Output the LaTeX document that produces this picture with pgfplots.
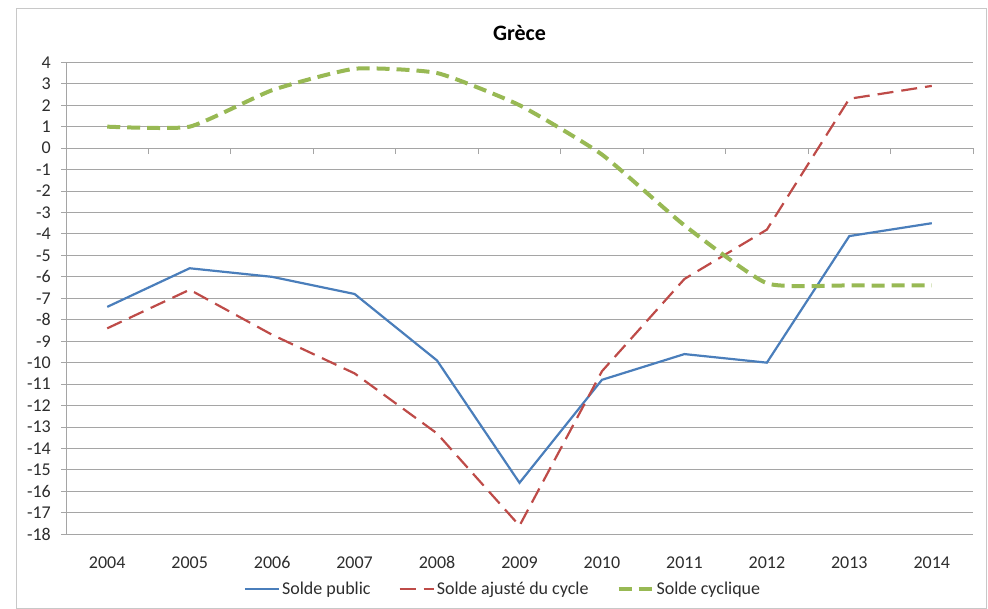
\documentclass[border=0pt]{standalone}
\usepackage{fontspec}
\setmainfont{Carlito}
\usepackage{pgfplots}
\pgfplotsset{compat=1.18}

\definecolor{gridcol}{RGB}{165,165,165}
\definecolor{framecol}{RGB}{200,200,200}
\definecolor{txtcol}{RGB}{45,45,45}
\definecolor{solpub}{RGB}{74,126,187}
\definecolor{solaju}{RGB}{190,75,72}
\definecolor{solcyc}{RGB}{152,185,84}

% Greece: budget balances, % of GDP (x = 0 ... 10 for 2004 ... 2014)
\pgfplotstableread{
x  public  ajuste  cyclique
0  -7.4    -8.4     1.0
1  -5.6    -6.6     1.0
2  -6.0    -8.7     2.7
3  -6.8   -10.5     3.7
4  -9.9   -13.3     3.5
5 -15.6   -17.6     2.0
6 -10.8   -10.4    -0.3
7  -9.6    -6.1    -3.6
8 -10.0    -3.8    -6.3
9  -4.1     2.3    -6.4
10 -3.5     2.9    -6.4
}\greecedata

\begin{document}
\begin{tikzpicture}
\path[use as bounding box] (0pt,0pt) rectangle (988pt,-609pt);
\draw[framecol, line width=1pt] (16pt,-9pt) rectangle (986pt,-608pt);

\pgfplotsset{
  greece base/.style={
    at={(66pt,-534.3pt)}, anchor=south west,
    scale only axis, width=907pt, height=472pt,
    xmin=-0.5, xmax=10.5, ymin=-18, ymax=4,
  }
}

% ticks on the category axis, which crosses at zero
\begin{axis}[
  greece base,
  axis x line*=middle, axis y line=none,
  x axis line style={draw=gridcol, line width=1pt},
  xtick={-0.5,0.5,...,10.5}, xticklabels={},
  ytick=\empty,
  tick align=outside, major tick length=6pt,
  xtick style={draw=gridcol, line width=1pt},
]
\end{axis}

\begin{axis}[
  greece base,
  axis lines*=left,
  axis line style={draw=gridcol, line width=1pt},
  ytick distance=1,
  ymajorgrids, grid style={draw=gridcol, line width=1pt},
  ytick style={draw=gridcol, line width=1pt},
  tick align=outside, major tick length=5pt,
  xtick=data,
  xticklabels={2004,2005,2006,2007,2008,2009,2010,2011,2012,2013,2014},
  xtick style={draw=none},
  /pgf/number format/assume math mode=true,
  tick label style={font=\fontsize{18}{20}\selectfont, text=txtcol},
  xticklabel style={anchor=base, yshift=-29pt},
  yticklabel style={anchor=east, inner sep=0pt, xshift=-10pt},
  title={Grèce},
  title style={font=\bfseries\fontsize{22}{26}\selectfont, text=black,
    at={(0.5,1)}, anchor=base, yshift=16pt},
  legend style={at={(0.4818,-0.1159)}, anchor=center, draw=none, fill=none,
    legend columns=3, font=\fontsize{18}{20}\selectfont, text=txtcol,
    nodes={inner sep=2pt},
    /tikz/every even column/.append style={column sep=26pt}},
  legend image code/.code={\draw[#1] (0pt,0pt) -- (34pt,0pt);},
  legend cell align=left,
]
\addplot[solpub, line width=2.2pt] table[x=x, y=public] {\greecedata};
\addlegendentry{Solde public}
\addplot[solaju, line width=2.2pt, dash pattern=on 16pt off 8pt] table[x=x, y=ajuste] {\greecedata};
\addlegendentry{Solde ajusté du cycle}
\addplot[solcyc, line width=4pt, dash pattern=on 13pt off 7pt, smooth, tension=0.3] table[x=x, y=cyclique] {\greecedata};
\addlegendentry{Solde cyclique}
\end{axis}
\end{tikzpicture}
\end{document}
